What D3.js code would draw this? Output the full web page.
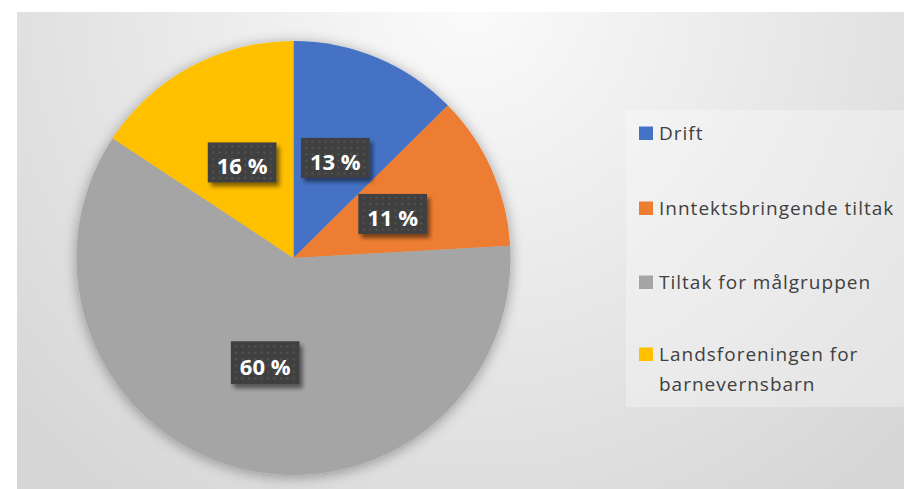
<!DOCTYPE html>
<html>
<head>
<meta charset="utf-8">
<script src="https://cdn.jsdelivr.net/npm/d3@7"></script>
<style>
  html, body { margin: 0; padding: 0; background: #ffffff; }
  svg { display: block; }
</style>
</head>
<body>
<script>
// ---- data ----
const categories = ["Drift", "Inntektsbringende tiltak", "Tiltak for målgruppen", "Landsforeningen for barnevernsbarn"];
const values = [12.6, 11.5, 60.2, 15.7];
const labels = ["13 %", "11 %", "60 %", "16 %"];
const colors = ["#4472C4", "#ED7D31", "#A5A5A5", "#FFC000"];
const legendLines = [["Drift"], ["Inntektsbringende tiltak"], ["Tiltak for målgruppen"], ["Landsforeningen for", "barnevernsbarn"]];

const W = 906, H = 489;
const svg = d3.select("body").append("svg").attr("width", W).attr("height", H);
const defs = svg.append("defs");

// background gradient
const bg = defs.append("radialGradient").attr("id", "bgGrad")
  .attr("gradientUnits", "userSpaceOnUse")
  .attr("cx", 470).attr("cy", 0).attr("r", 620);
bg.append("stop").attr("offset", "0%").attr("stop-color", "#fbfbfb");
bg.append("stop").attr("offset", "100%").attr("stop-color", "#d6d6d6");

// pie shadow
const sh = defs.append("filter").attr("id", "pieShadow").attr("x", "-20%").attr("y", "-20%").attr("width", "140%").attr("height", "140%");
sh.append("feGaussianBlur").attr("in", "SourceAlpha").attr("stdDeviation", 7).attr("result", "b");
sh.append("feOffset").attr("in", "b").attr("dx", 0).attr("dy", 2).attr("result", "o");
sh.append("feComponentTransfer").attr("in", "o").attr("result", "o2")
  .append("feFuncA").attr("type", "linear").attr("slope", 0.35);
const m1 = sh.append("feMerge");
m1.append("feMergeNode").attr("in", "o2");
m1.append("feMergeNode").attr("in", "SourceGraphic");

// label shadow
const ls = defs.append("filter").attr("id", "lblShadow").attr("x", "-20%").attr("y", "-20%").attr("width", "150%").attr("height", "160%");
ls.append("feGaussianBlur").attr("in", "SourceAlpha").attr("stdDeviation", 2).attr("result", "b");
ls.append("feOffset").attr("in", "b").attr("dx", 3).attr("dy", 4).attr("result", "o");
ls.append("feComponentTransfer").attr("in", "o").attr("result", "o2")
  .append("feFuncA").attr("type", "linear").attr("slope", 0.5);
const m2 = ls.append("feMerge");
m2.append("feMergeNode").attr("in", "o2");
m2.append("feMergeNode").attr("in", "SourceGraphic");

// dotted pattern for label boxes
const pat = defs.append("pattern").attr("id", "dots").attr("patternUnits", "userSpaceOnUse")
  .attr("width", 6.4).attr("height", 6.4);
pat.append("rect").attr("width", 6.4).attr("height", 6.4).attr("fill", "#3f3f3f");
pat.append("rect").attr("x", 2).attr("y", 2).attr("width", 2).attr("height", 2).attr("fill", "#555555");

svg.append("rect").attr("x", 17).attr("y", 12).attr("width", 887).attr("height", H - 12)
  .attr("fill", "url(#bgGrad)");

// pie
const cx = 293.5, cy = 258, R = 217;
const pie = d3.pie().sort(null).value(d => d);
const arc = d3.arc().innerRadius(0).outerRadius(R);
const arcs = pie(values);
const g = svg.append("g").attr("transform", `translate(${cx},${cy})`);
g.append("g").attr("filter", "url(#pieShadow)")
  .selectAll("path").data(arcs).join("path")
  .attr("d", arc).attr("fill", (d, i) => colors[i]);

// labels
const lg = g.selectAll("g.lbl").data(arcs).join("g").attr("class", "lbl")
  .attr("transform", d => { const c = arc.centroid(d); return `translate(${c[0]},${c[1]})`; });
lg.each(function (d, i) {
  const s = d3.select(this);
  const box = s.append("rect").attr("fill", "url(#dots)").attr("filter", "url(#lblShadow)");
  const t = s.append("text").text(labels[i])
    .attr("x", 0).attr("y", 12).attr("text-anchor", "middle")
    .attr("font-family", "'Open Sans', sans-serif").attr("font-weight", "bold")
    .attr("font-size", 22).attr("fill", "#ffffff");
  const w = t.node().getComputedTextLength() + 18;
  const h = i === 2 ? 43 : 40;
  box.attr("x", -w / 2).attr("y", -h / 2).attr("width", w).attr("height", h);
});

// legend
svg.append("rect").attr("x", 626).attr("y", 110).attr("width", 278).attr("height", 297)
  .attr("fill", "#ffffff").attr("fill-opacity", 0.3);
const baselines = [140, 215, 289, 361];
const leg = svg.append("g");
categories.forEach((c, i) => {
  const y = baselines[i];
  leg.append("rect").attr("x", 639).attr("y", y - 13.5).attr("width", 14).attr("height", 13.5).attr("fill", colors[i]);
  const t = leg.append("text").attr("x", 659).attr("y", y)
    .attr("font-family", "'Open Sans', sans-serif").attr("font-size", 19)
    .attr("letter-spacing", 1).attr("fill", "#404040");
  legendLines[i].forEach((ln, j) => {
    t.append("tspan").attr("x", 659).attr("y", y + j * 30).text(ln);
  });
});
</script>
</body>
</html>
